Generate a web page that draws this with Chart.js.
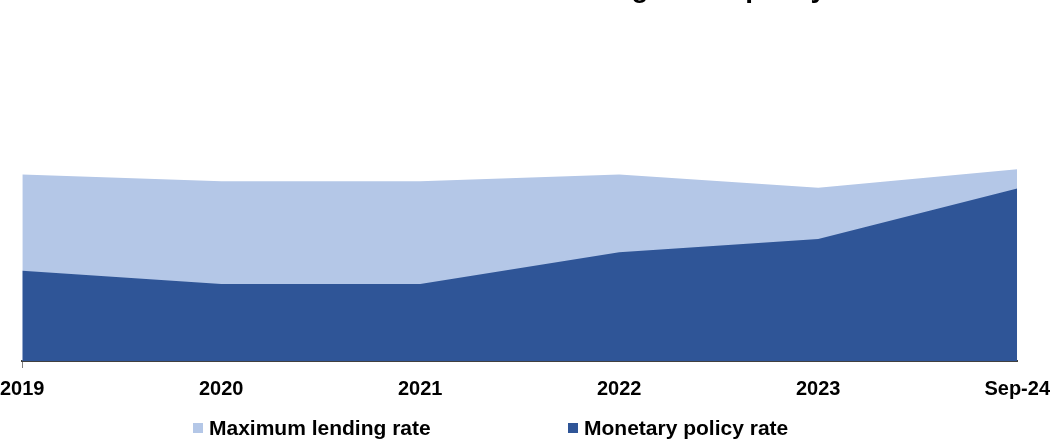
<!DOCTYPE html>
<html>
<head>
<meta charset="utf-8">
<script src="https://cdn.jsdelivr.net/npm/chart.js@4.4.1/dist/chart.umd.min.js"></script>
<style>
html, body { margin: 0; padding: 0; background: #fff; }
#wrap { position: relative; width: 1050px; height: 447px; overflow: hidden; font-family: "Liberation Sans", Arial, sans-serif; }
#box { position: absolute; left: 0; top: -28px; width: 1050px; height: 475px; }
.item { position: absolute; top: 416px; height: 24px; line-height: 24px; font-size: 21px; font-weight: bold; color: #000; white-space: nowrap; }
.item .sw { position: absolute; left: 0; top: 7px; width: 10px; height: 10px; }
.item .tx { position: absolute; left: 16px; top: 0; }
</style>
</head>
<body>
<div id="wrap">
  <div id="box"><canvas id="rateChart"></canvas></div>
  <div id="legend"></div>
</div>
<script>
const years = ['2019', '2020', '2021', '2022', '2023', 'Sep-24'];
const maxLendingRate = [28.1, 27.1, 27.1, 28.1, 26.1, 28.9];
const policyRate = [13.6, 11.6, 11.6, 16.4, 18.4, 26.0];

const FONT = '"Liberation Sans", Arial, sans-serif';

const chart = new Chart(document.getElementById('rateChart').getContext('2d'), {
    type: 'line',
    data: {
        labels: years,
        datasets: [
            {
                label: 'Maximum lending rate',
                data: maxLendingRate,
                backgroundColor: '#b4c7e7',
                fill: 'origin',
                order: 2
            },
            {
                label: 'Monetary policy rate',
                data: policyRate,
                backgroundColor: '#2f5597',
                fill: 'origin',
                order: 1
            }
        ]
    },
    options: {
        responsive: true,
        maintainAspectRatio: false,
        animation: false,
        layout: { padding: { top: 0, left: 0, right: 0, bottom: 46 } },
        elements: {
            line: { borderWidth: 0, tension: 0 },
            point: { radius: 0, hoverRadius: 0 }
        },
        plugins: {
            legend: { display: false },
            tooltip: { enabled: false },
            title: {
                display: true,
                text: 'Chart 5: Trends in maximum lending vs the policy rate',
                color: '#000',
                font: { family: FONT, size: 28, weight: 'bold' },
                padding: { top: 0, bottom: 90 }
            }
        },
        scales: {
            x: {
                grid: {
                    display: true,
                    drawOnChartArea: false,
                    tickLength: 16,
                    tickBorderDash: [6, 40],
                    color: c => c.index === 0 ? '#7f7f7f' : 'rgba(0,0,0,0)'
                },
                border: { display: true, color: '#404040', width: 2 },
                ticks: {
                    color: '#000',
                    font: { family: FONT, size: 20, weight: 'bold' },
                    padding: 0,
                    maxRotation: 0,
                    autoSkip: false
                }
            },
            y: { display: false, min: 0, max: 40 }
        }
    }
});

// legend drawn as html, built from the datasets
const legendLeft = [193, 568];
const legend = document.getElementById('legend');
chart.data.datasets.forEach((ds, i) => {
    const it = document.createElement('div');
    it.className = 'item';
    it.style.left = legendLeft[i] + 'px';
    it.innerHTML = '<span class="sw" style="background:' + ds.backgroundColor + '"></span><span class="tx">' + ds.label + '</span>';
    legend.appendChild(it);
});
</script>
</body>
</html>
